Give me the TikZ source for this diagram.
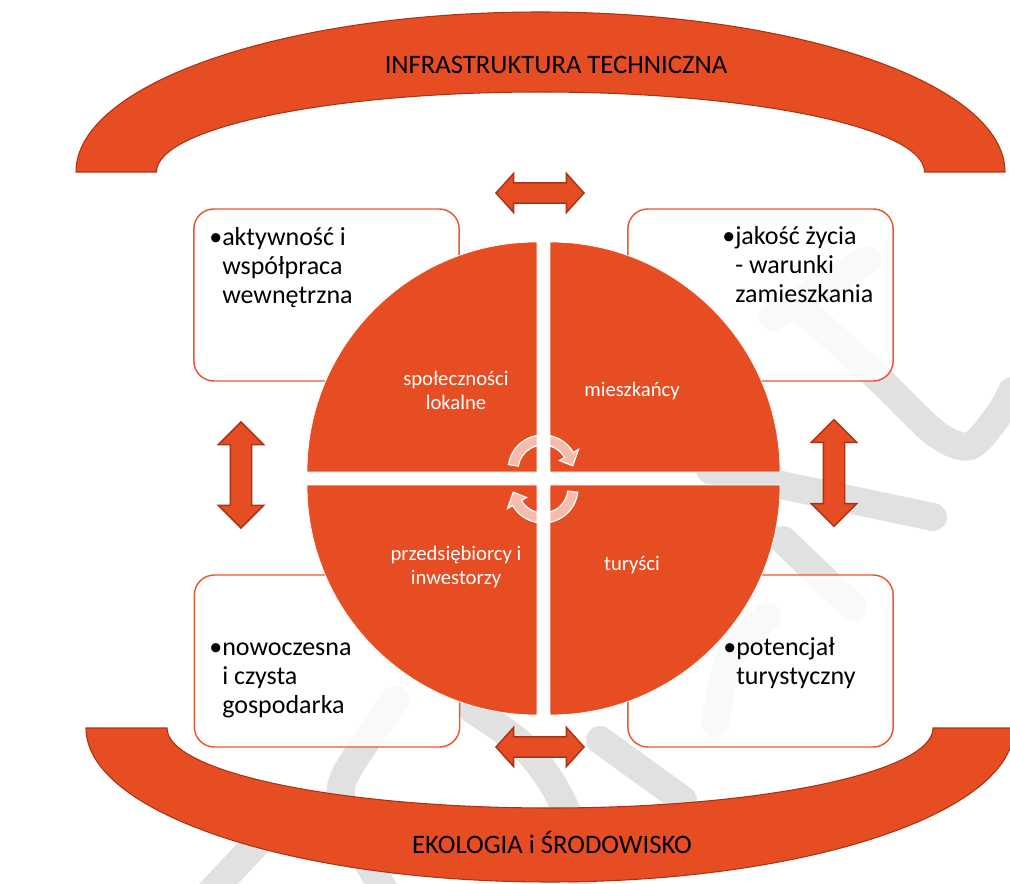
\documentclass[tikz,border=0pt]{standalone}
\usepackage{fontspec}
\setmainfont{Carlito}
\usetikzlibrary{shapes.arrows}

\definecolor{brick}{RGB}{231,77,35}
\definecolor{brickdark}{RGB}{168,52,22}
\definecolor{boxline}{RGB}{233,88,48}
\definecolor{wmgray}{RGB}{225,225,225}

\begin{document}
\begin{tikzpicture}[
  x=0.75pt, y=0.75pt,
  band/.style={fill=brick, draw=brickdark, line width=0.8pt},
  quarter/.style={fill=brick, draw=white, line width=0.5pt},
  infobox/.style={draw=boxline, line width=1.1pt, rounded corners=15pt, fill=white, fill opacity=0.82,
    minimum width=199pt, minimum height=129pt},
  boxtext/.style={font=\fontsize{19.5}{21.75}\selectfont, inner sep=0pt, anchor=base west},
  qlabel/.style={text=white, align=center, font=\fontsize{15.5}{18}\selectfont, inner sep=0pt},
  bandlabel/.style={font=\fontsize{20}{24}\selectfont, inner sep=0pt, anchor=base},
  dblarrow/.style={double arrow, fill=brick, draw=brickdark, line width=1.1pt, inner xsep=0pt, minimum width=0pt},
  cyclearrow/.style={fill=white, fill opacity=0.62, draw=white, line width=0.9pt},
  wmark/.style={draw=wmgray, line width=21pt, line cap=round, line join=round}
]
  \useasboundingbox (0,0) rectangle (1010,883);

  % watermark in the background
  \draw[wmark] plot[smooth] coordinates {(800,576) (877,506) (935,450) (970,437) (1000,470) (1012,492)};
  \draw[wmark] (710,413) -- (933,366);
  \draw[wmark] (867,623) -- (773,566);
  \draw[wmark] (783,343) -- (853,276);
  \draw[wmark] (600,143) -- (683,83);
  \draw[wmark] plot[smooth] coordinates {(473,173) (520,140) (552,100) (575,50) (583,-10)};
  \draw[wmark] plot[smooth] coordinates {(395,183) (365,140) (341,96) (352,50) (386,-10)};
  \draw[wmark] (257,40) -- (210,-10);
  \draw[wmark] plot[smooth] coordinates {(767,266) (730,225) (715,160)};

  % bands
  \path[band] (76,711) arc[start angle=180, end angle=0, x radius=464.5, y radius=160]
    -- (924.5,711) arc[start angle=0, end angle=180, x radius=384, y radius=80] -- cycle;
  \path[band] (86,155) arc[start angle=180, end angle=360, x radius=464, y radius=154]
    -- (933,155) arc[start angle=0, end angle=-180, x radius=383, y radius=80] -- cycle;
  \node[bandlabel] (infra) at (556,809) {INFRASTRUKTURA TECHNICZNA};
  \node[bandlabel] (eko) at (552,30) {EKOLOGIA i ŚRODOWISKO};

  % boxes
  \node[infobox] (bTL) at (326.5,588) {};
  \node[infobox] (bTR) at (760.5,588) {};
  \node[infobox] (bBL) at (327,222) {};
  \node[infobox] (bBR) at (760.5,222) {};

  % circle in four parts
  \path[quarter] (537,411) -- (307,411) arc[start angle=180, end angle=90, radius=230] -- cycle;
  \path[quarter] (550,411) -- (550,641) arc[start angle=90, end angle=0, radius=230] -- cycle;
  \path[quarter] (537,398) -- (537,168) arc[start angle=270, end angle=180, radius=230] -- cycle;
  \path[quarter] (550,398) -- (780,398) arc[start angle=0, end angle=-90, radius=230] -- cycle;

  \node[qlabel] (spol) at (456,493) {społeczności\\lokalne};
  \node[qlabel] (mies) at (632,492) {mieszkańcy};
  \node[qlabel] (przed) at (456,316) {przedsiębiorcy i\\inwestorzy};
  \node[qlabel] (tur) at (632,318) {turyści};

  % cycle arrows
  \begin{scope}[shift={(543,413)}]
    \path[cyclearrow] (171:35) arc[start angle=171, end angle=30, radius=35] -- (30:41) -- (8:30)
      -- (30:19) -- (30:25) arc[start angle=30, end angle=171, radius=25] -- cycle;
  \end{scope}
  \begin{scope}[shift={(543,395)}]
    \path[cyclearrow] (-7:35) arc[start angle=-7, end angle=-150, radius=35] -- (-150:41) -- (-172:30)
      -- (-150:19) -- (-150:25) arc[start angle=-150, end angle=-7, radius=25] -- cycle;
  \end{scope}

  % texts in the boxes
  \node[boxtext] (tTL) at (222,637) {\begin{tabular}[t]{@{}l@{}}\llap{\textbullet}aktywność i\\współpraca\\wewnętrzna\end{tabular}};
  \node[boxtext] (tTR) at (735,638) {\begin{tabular}[t]{@{}l@{}}\llap{\textbullet}jakość życia\\- warunki\\zamieszkania\end{tabular}};
  \node[boxtext] (tBL) at (222,228) {\begin{tabular}[t]{@{}l@{}}\llap{\textbullet}nowoczesna\\i czysta\\gospodarka\end{tabular}};
  \node[boxtext] (tBR) at (736,228) {\begin{tabular}[t]{@{}l@{}}\llap{\textbullet}potencjał\\turystyczny\end{tabular}};

  % double arrows
  \node[dblarrow, minimum height=66pt, inner ysep=7.1pt, double arrow head extend=7.1pt,
    double arrow tip angle=96] (aTop) at (540,690) {};
  \node[dblarrow, minimum height=66pt, inner ysep=7.1pt, double arrow head extend=7.1pt,
    double arrow tip angle=96] (aBot) at (540,136) {};
  \node[dblarrow, rotate=90, minimum height=79.5pt, inner ysep=7.5pt, double arrow head extend=9pt,
    double arrow tip angle=90] (aLeft) at (241,408) {};
  \node[dblarrow, rotate=90, minimum height=80pt, inner ysep=7.5pt, double arrow head extend=9pt,
    double arrow tip angle=90] (aRight) at (834,410) {};
\end{tikzpicture}
\end{document}
